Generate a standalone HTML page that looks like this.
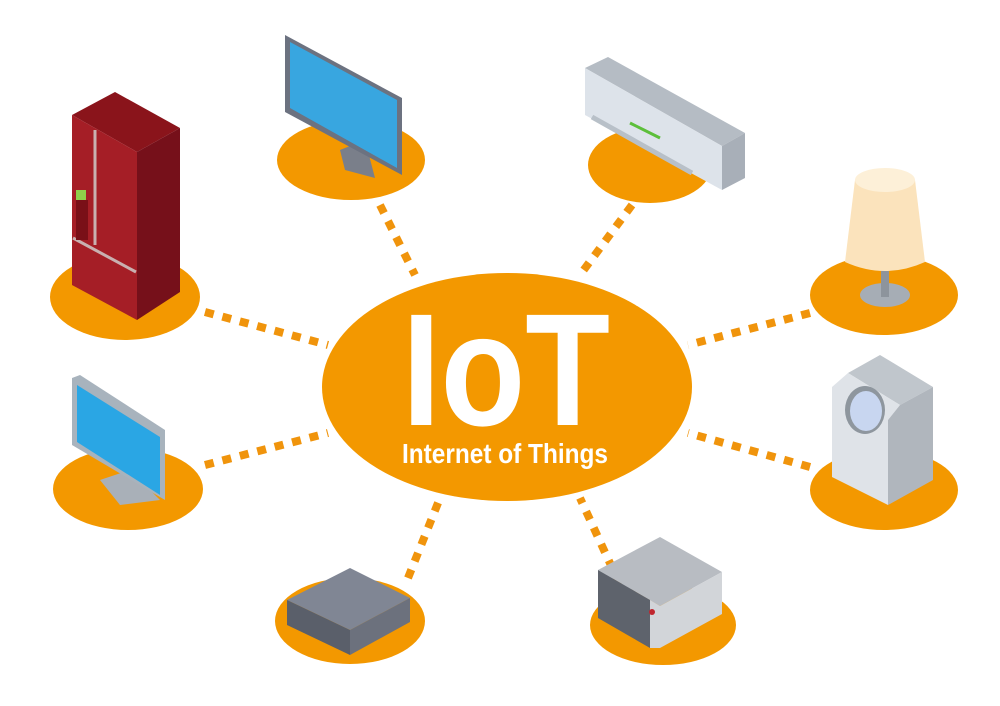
<!DOCTYPE html>
<html><head><meta charset="utf-8"><style>
html,body{margin:0;padding:0;background:#fff}
svg{display:block}
</style></head><body>
<svg width="1000" height="706" viewBox="0 0 1000 706" xmlns="http://www.w3.org/2000/svg">
<rect width="1000" height="706" fill="#fff"/>
<g stroke="#f0940c" stroke-width="8" stroke-dasharray="9 9" fill="none">
<line x1="205" y1="312" x2="328" y2="345"/>
<line x1="380" y1="205" x2="415" y2="275"/>
<line x1="632" y1="205" x2="580" y2="275"/>
<line x1="810" y1="313" x2="688" y2="345"/>
<line x1="205" y1="465" x2="328" y2="433"/>
<line x1="810" y1="467" x2="688" y2="433"/>
<line x1="408" y1="578" x2="440" y2="498"/>
<line x1="620" y1="585" x2="580" y2="498"/>
</g>
<g fill="#f39800">
<ellipse cx="507" cy="387" rx="185" ry="114"/>
<ellipse cx="125" cy="297" rx="75" ry="43"/>
<ellipse cx="351" cy="160" rx="74" ry="40"/>
<ellipse cx="650" cy="165" rx="62" ry="38"/>
<ellipse cx="884" cy="295" rx="74" ry="40"/>
<ellipse cx="128" cy="489" rx="75" ry="41"/>
<ellipse cx="884" cy="490" rx="74" ry="40"/>
<ellipse cx="350" cy="621" rx="75" ry="43"/>
<ellipse cx="663" cy="625" rx="73" ry="40"/>
</g>
<text x="402" y="425" font-family="Liberation Sans, sans-serif" font-weight="bold" font-size="160" fill="#fff" textLength="208" lengthAdjust="spacingAndGlyphs">IoT</text>
<text x="402" y="463" font-family="Liberation Sans, sans-serif" font-weight="bold" font-size="28" fill="#fff" textLength="206" lengthAdjust="spacingAndGlyphs">Internet of Things</text>

<!-- fridge -->
<polygon points="72,115 115,92 180,128 137,152" fill="#8a141b"/>
<polygon points="72,115 137,152 137,320 72,285" fill="#a51e26"/>
<polygon points="137,152 180,128 180,292 137,320" fill="#76101a"/>
<line x1="95" y1="130" x2="95" y2="245" stroke="#c9b0b0" stroke-width="3"/>
<line x1="73" y1="238" x2="136" y2="272" stroke="#c9b0b0" stroke-width="3"/>
<rect x="76" y="190" width="10" height="10" fill="#8fd04a"/>
<rect x="76" y="200" width="12" height="40" fill="#7a1018"/>

<!-- top monitor -->
<polygon points="340,150 365,140 375,178 345,170" fill="#7a7f8a"/>
<polygon points="285,35 402,98 402,175 285,112" fill="#6c7280"/>
<polygon points="290,42 397,100 397,168 290,108" fill="#38a6e0"/>

<!-- AC -->
<polygon points="585,68 608,57 745,133 722,146" fill="#b5bcc4"/>
<polygon points="585,68 722,146 722,190 585,115" fill="#dde3ea"/>
<polygon points="722,146 745,133 745,178 722,190" fill="#a8afb8"/>
<line x1="592" y1="117" x2="692" y2="173" stroke="#b8c0c8" stroke-width="5"/>
<line x1="630" y1="123" x2="660" y2="138" stroke="#5cbf3a" stroke-width="3"/>

<!-- lamp -->
<ellipse cx="885" cy="295" rx="25" ry="12" fill="#a6adb5"/>
<rect x="881" y="265" width="8" height="32" fill="#8d949c"/>
<path d="M855,180 Q885,165 915,180 L925,262 Q885,280 845,262 Z" fill="#fbe3bc"/>
<ellipse cx="885" cy="180" rx="30" ry="12" fill="#fdf0d8"/>

<!-- left monitor -->
<polygon points="100,480 130,470 160,500 120,505" fill="#a9b0b8"/>
<polygon points="72,378 80,375 165,430 165,500 72,445" fill="#a8b3bd"/>
<polygon points="77,385 160,437 160,495 77,442" fill="#2aa6e4"/>

<!-- washer -->
<polygon points="848,373 880,355 933,387 900,405" fill="#c0c6cc"/>
<polygon points="832,387 848,373 900,405 888,420 888,505 832,477" fill="#dfe3e8"/>
<polygon points="888,420 900,405 933,387 933,480 888,505" fill="#b0b6bd"/>
<ellipse cx="865" cy="410" rx="20" ry="24" fill="#8e969e"/>
<ellipse cx="866" cy="411" rx="16" ry="20" fill="#c8d6f0"/>

<!-- box -->
<polygon points="287,600 350,568 410,598 350,630" fill="#808694"/>
<polygon points="287,600 350,630 350,655 287,625" fill="#5a5f6a"/>
<polygon points="350,630 410,598 410,622 350,655" fill="#6c717d"/>

<!-- microwave -->
<polygon points="598,570 660,537 722,572 660,606" fill="#b8bcc2"/>
<polygon points="598,570 650,600 650,648 598,618" fill="#5e636c"/>
<polygon points="650,600 660,606 722,572 722,614 660,648 650,648" fill="#d2d5d9"/>
<circle cx="652" cy="612" r="3" fill="#c0262e"/>
</svg>
</body></html>
